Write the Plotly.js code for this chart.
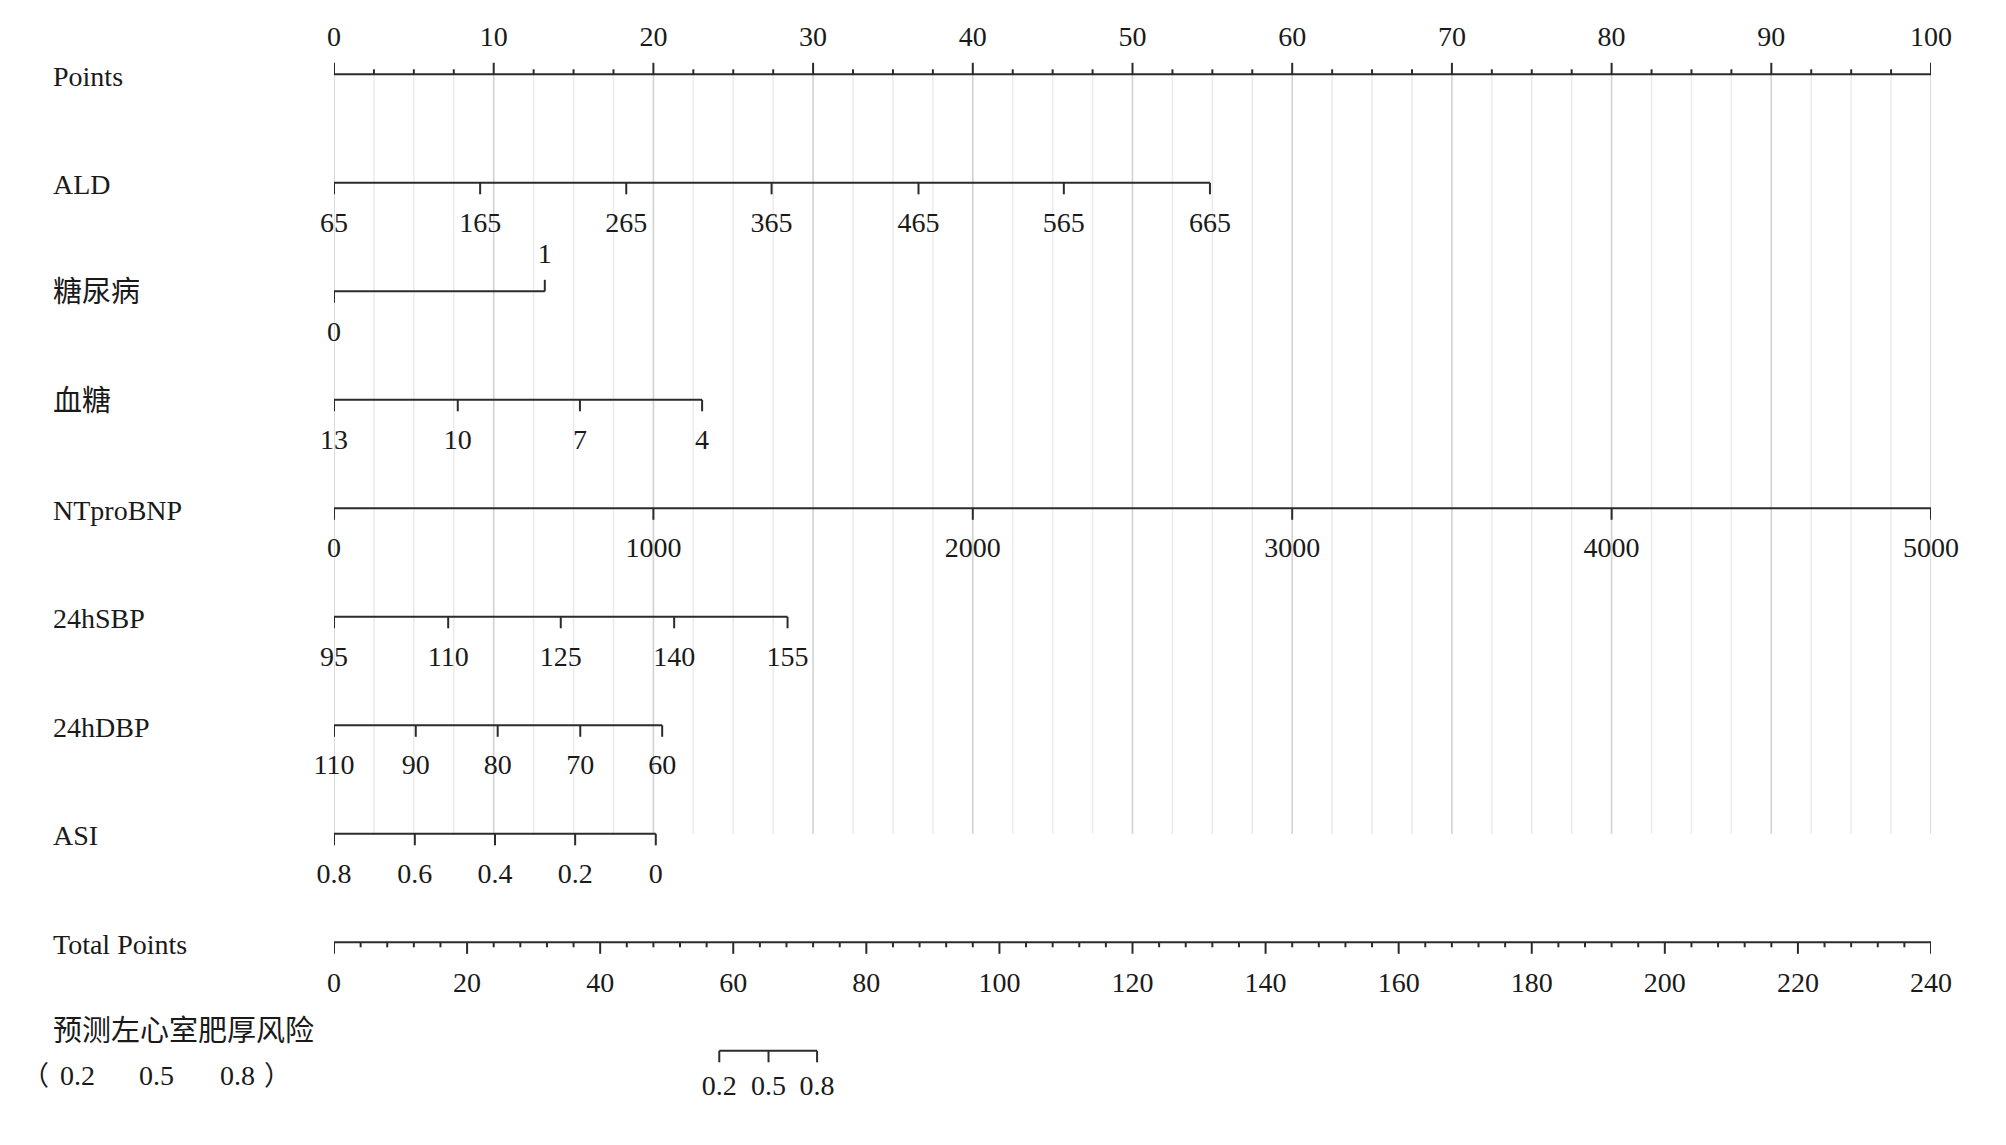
<!DOCTYPE html>
<html>
<head>
<meta charset="utf-8">
<script src="https://cdn.plot.ly/plotly-3.0.1.min.js"></script>
<style>html,body{margin:0;padding:0;background:#fff;}#chart{width:2006px;height:1145px;}</style>
</head>
<body>
<div id="chart"></div>
<script>
// ---------------- data ----------------
const rowNames = ['Points','ALD','糖尿病','血糖','NTproBNP','24hSBP','24hDBP','ASI','Total Points','预测左心室肥厚风险'];

const pointsMajor = [0,10,20,30,40,50,60,70,80,90,100];
const pointsMinorStep = 2.5;

const aldLabels = ['65','165','265','365','465','565','665'];
const aldPoints = [0, 9.15, 18.3, 27.4, 36.6, 45.7, 54.85];

const dmLabels = ['0','1'];
const dmPoints = [0, 13.2];

const gluLabels = ['13','10','7','4'];
const gluPoints = [0, 7.75, 15.4, 23.05];

const bnpLabels = ['0','1000','2000','3000','4000','5000'];
const bnpPoints = [0, 20, 40, 60, 80, 100];

const sbpLabels = ['95','110','125','140','155'];
const sbpPoints = [0, 7.15, 14.2, 21.3, 28.4];

const dbpLabels = ['110','90','80','70','60'];
const dbpPoints = [0, 5.12, 10.25, 15.42, 20.55];

const asiLabels = ['0.8','0.6','0.4','0.2','0'];
const asiPoints = [0, 5.06, 10.08, 15.1, 20.15];

const totalMajor = [0,20,40,60,80,100,120,140,160,180,200,220,240];
const totalMinorStep = 4;
const totalMax = 240;

const riskLabels = ['0.2','0.5','0.8'];
const riskTotal = [57.9, 65.3, 72.6];

const riskLegendParts = ['（', '0.2', '0.5', '0.8', '）'];

// ---------------- layout constants ----------------
const W = 2006, H = 1145;
const rowTop = 74.3, rowGap = 108.5;
const rowY = i => rowTop + rowGap * i;
const majorLen = 11.5, minorLen = 5;
const labOff = 42, labOffUp = 35;
const tickFont = 28;
const axisColor = '#2b2b2b';
const serif = 'Liberation Serif, Times New Roman, serif';
const cjk = 'Noto Sans CJK SC, sans-serif';

const traces = [];
function seg(xs, y0, y1) {
  const X = [], Y = [];
  xs.forEach(x => { X.push(x, x, null); Y.push(y0, y1, null); });
  return {X, Y};
}
function lineTrace(X, Y, color, width) {
  return {type:'scatter', mode:'lines', x:X, y:Y, line:{color:color, width:width},
          hoverinfo:'skip', showlegend:false, cliponaxis:false};
}
function textTrace(X, Y, T, size) {
  return {type:'scatter', mode:'text', x:X, y:Y, text:T, textposition:'middle center',
          textfont:{family:serif, size:size, color:'#1a1a1a'}, hoverinfo:'skip',
          showlegend:false, cliponaxis:false};
}

// gridlines
const gridTop = rowY(0), gridBottom = rowY(7);
const minorGrid = [];
for (let v = 0; v <= 100 + 1e-9; v += pointsMinorStep) {
  if (!pointsMajor.some(m => Math.abs(m - v) < 1e-9)) minorGrid.push(v);
}
let g = seg(minorGrid, gridTop, gridBottom);
traces.push(lineTrace(g.X, g.Y, '#ececec', 1.6));
g = seg(pointsMajor, gridTop, gridBottom);
traces.push(lineTrace(g.X, g.Y, '#d2d2d2', 1.6));

// Points axis (ticks up, labels above)
{
  const y = rowY(0);
  traces.push(lineTrace([0,100],[y,y], axisColor, 2));
  let s = seg(minorGrid, y, y - minorLen);
  traces.push(lineTrace(s.X, s.Y, axisColor, 2));
  s = seg(pointsMajor, y, y - majorLen);
  traces.push(lineTrace(s.X, s.Y, axisColor, 2));
  traces.push(textTrace(pointsMajor, pointsMajor.map(() => y - labOffUp), pointsMajor.map(String), tickFont));
}

// variable axes (ticks down, labels below)
function varAxis(row, pts, labels) {
  const y = rowY(row);
  traces.push(lineTrace([Math.min(...pts), Math.max(...pts)], [y,y], axisColor, 2));
  const s = seg(pts, y, y + majorLen);
  traces.push(lineTrace(s.X, s.Y, axisColor, 2));
  traces.push(textTrace(pts, pts.map(() => y + labOff), labels, tickFont));
}
varAxis(1, aldPoints, aldLabels);
// diabetes: 0 below, 1 above
{
  const y = rowY(2);
  traces.push(lineTrace([dmPoints[0], dmPoints[1]], [y,y], axisColor, 2));
  traces.push(lineTrace([dmPoints[0], dmPoints[0], null, dmPoints[1], dmPoints[1]],
                        [y, y + majorLen, null, y, y - majorLen], axisColor, 2));
  traces.push(textTrace([dmPoints[0]], [y + labOff + 1], [dmLabels[0]], tickFont));
  traces.push(textTrace([dmPoints[1]], [y - labOffUp], [dmLabels[1]], tickFont));
}
varAxis(3, gluPoints, gluLabels);
varAxis(4, bnpPoints, bnpLabels);
varAxis(5, sbpPoints, sbpLabels);
varAxis(6, dbpPoints, dbpLabels);
varAxis(7, asiPoints, asiLabels);

// Total points axis
{
  const y = rowY(8);
  const toX = t => t * 100 / totalMax;
  traces.push(lineTrace([0,100],[y,y], axisColor, 2));
  const minor = [];
  for (let v = 0; v <= totalMax; v += totalMinorStep) if (!totalMajor.includes(v)) minor.push(toX(v));
  let s = seg(minor, y, y + minorLen);
  traces.push(lineTrace(s.X, s.Y, axisColor, 2));
  s = seg(totalMajor.map(toX), y, y + majorLen);
  traces.push(lineTrace(s.X, s.Y, axisColor, 2));
  traces.push(textTrace(totalMajor.map(toX), totalMajor.map(() => y + labOff + 1), totalMajor.map(String), tickFont));

  // risk axis
  const yr = rowY(9);
  const rx = riskTotal.map(toX);
  traces.push(lineTrace([rx[0], rx[rx.length-1]], [yr,yr], axisColor, 2));
  const rs = seg(rx, yr, yr + majorLen);
  traces.push(lineTrace(rs.X, rs.Y, axisColor, 2));
  traces.push(textTrace(rx, rx.map(() => yr + labOff - 5), riskLabels, tickFont));
}

// left labels
const px2paper = px => (px - 334) / 1597;
const annotations = rowNames.map((name, i) => {
  const isCJK = /[\u4e00-\u9fff]/.test(name);
  return {
    xref:'paper', yref:'y', x:px2paper(51),
    y: (i === 9 ? rowY(9) - 19 : rowY(i) + 2) - (isCJK ? 4 : 0),
    text:name, showarrow:false, xanchor:'left', yanchor:'middle',
    font:{family: isCJK ? cjk : serif, size: isCJK ? 29 : 28, color:'#1a1a1a'}
  };
});
// "（0.2   0.5   0.8）" legend line under the risk label
const legendX = [20, 77, 156, 237, 293];
const legendAnchor = ['left', 'center', 'center', 'center', 'right'];
riskLegendParts.forEach((t, k) => {
  const isCJK = /[（）]/.test(t);
  annotations.push({
    xref:'paper', yref:'y', x:px2paper(legendX[k]), y: rowY(9) + 25 - (isCJK ? 2 : 0),
    text:t, showarrow:false, xanchor:legendAnchor[k], yanchor:'middle',
    font:{family: isCJK ? cjk : serif, size: isCJK ? 27 : 28, color:'#1a1a1a'}
  });
});

const layout = {
  width: W, height: H,
  margin: {l:334, r:75, t:0, b:0},
  paper_bgcolor:'#ffffff', plot_bgcolor:'#ffffff',
  xaxis: {range:[0,100], visible:false, fixedrange:true},
  yaxis: {range:[H,0], visible:false, fixedrange:true},
  showlegend:false,
  annotations: annotations
};
Plotly.newPlot('chart', traces, layout, {displayModeBar:false, staticPlot:true});
</script>
</body>
</html>
